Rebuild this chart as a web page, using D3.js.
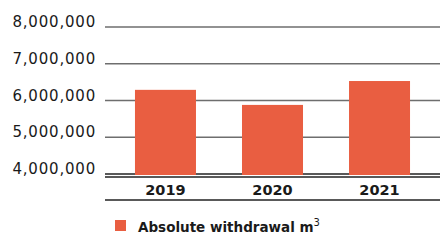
<!DOCTYPE html>
<html>
<head>
<meta charset="utf-8">
<script src="https://cdn.jsdelivr.net/npm/d3@7"></script>
<style>
body { margin: 0; background: #fff; }
svg { display: block; }
text { font-family: "DejaVu Sans", sans-serif; fill: #1a1a1a; }
</style>
</head>
<body>
<svg id="chart" width="440" height="245"></svg>
<script>
var years = ["2019", "2020", "2021"];
var withdrawal = [6290000, 5880000, 6530000];
var yTicks = [4000000, 5000000, 6000000, 7000000, 8000000];
var seriesName = "Absolute withdrawal m";

var BAR = "#e95e41";

var svg = d3.select("#chart");

var x = d3.scaleBand()
    .domain(years)
    .range([105, 440])
    .paddingInner(0.43)
    .paddingOuter(0.28);

var y = d3.scaleLinear()
    .domain([4000000, 8000000])
    .range([174, 27]);

// gridlines
svg.append("g")
    .selectAll("line")
    .data(yTicks)
    .enter().append("line")
    .attr("x1", 105).attr("x2", 440)
    .attr("y1", function (d) { return y(d); })
    .attr("y2", function (d) { return y(d); })
    .style("stroke", function (d, i) { return i === 0 ? "#222" : "#6e6e6e"; })
    .style("stroke-width", 1.5);

// y labels
var fmt = d3.format(",");
svg.append("g")
    .selectAll("text")
    .data(yTicks)
    .enter().append("text")
    .attr("x", 96)
    .attr("y", function (d) { return y(d); })
    .attr("text-anchor", "end")
    .style("font-size", "15px")
    .style("letter-spacing", "0.8px")
    .text(function (d) { return fmt(d); });

// bars
svg.append("g")
    .selectAll("rect")
    .data(withdrawal)
    .enter().append("rect")
    .attr("x", function (d, i) { return x(years[i]); })
    .attr("width", x.bandwidth())
    .attr("y", function (d) { return y(d); })
    .attr("height", function (d) { return y(4000000) - y(d) + 1; })
    .style("fill", BAR);

// baseline + bottom rule
[177, 200].forEach(function (yy) {
    svg.append("line")
        .attr("x1", 105).attr("x2", 440)
        .attr("y1", yy).attr("y2", yy)
        .style("stroke", "#222")
        .style("stroke-width", 1.5);
});

// year labels
svg.append("g")
    .selectAll("text")
    .data(years)
    .enter().append("text")
    .attr("x", function (d) { return x(d) + x.bandwidth() / 2; })
    .attr("y", 195)
    .attr("text-anchor", "middle")
    .style("font-size", "14.5px")
    .style("font-weight", "bold")
    .text(function (d) { return d; });

// legend
svg.append("rect")
    .attr("x", 115).attr("y", 220)
    .attr("width", 11).attr("height", 11)
    .style("fill", BAR);

var lt = svg.append("text")
    .attr("x", 138).attr("y", 232)
    .style("font-size", "13.5px")
    .style("font-weight", "bold");
lt.append("tspan").text(seriesName);
lt.append("tspan")
    .attr("dy", -6)
    .style("font-size", "10px")
    .style("font-weight", "normal")
    .text("3");
</script>
</body>
</html>
